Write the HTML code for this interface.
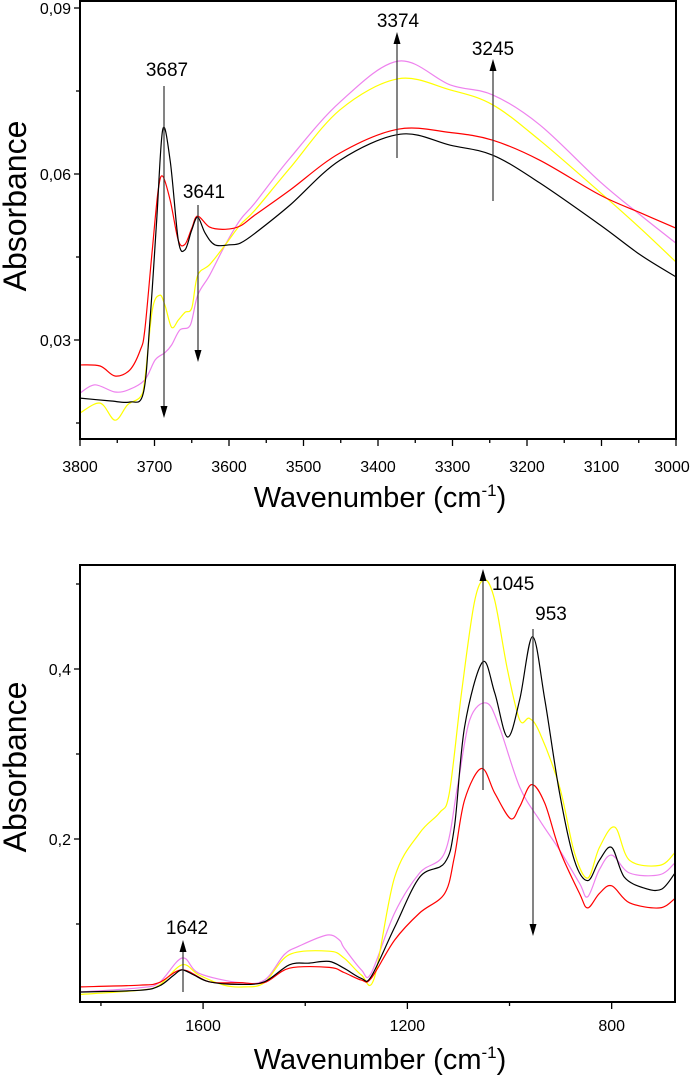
<!DOCTYPE html>
<html><head><meta charset="utf-8"><style>
html,body{margin:0;padding:0;background:#fff;}
svg{display:block;font-family:"Liberation Sans",Arial,sans-serif;}
</style></head><body>
<svg id="fig" width="694" height="1078" viewBox="0 0 694 1078" xmlns="http://www.w3.org/2000/svg"></svg>
<script>
// ---- Top chart data (OH region) ----
const topWn = {
 black:[3800,3760,3733,3715,3706,3697,3689,3679,3668,3659,3650,3642,3632,3619,3599,3585,3565,3518,3451,3370,3303,3246,3183,3102,3048,3000],
 red:[3800,3773,3753,3733,3719,3713,3703,3695,3689,3679,3668,3659,3650,3642,3626,3605,3585,3565,3518,3451,3373,3303,3246,3183,3102,3048,3000],
 yellow:[3800,3773,3753,3736,3719,3713,3703,3693,3686,3677,3668,3659,3650,3642,3626,3605,3585,3565,3518,3451,3373,3303,3246,3183,3102,3048,3000],
 violet:[3800,3780,3753,3733,3713,3699,3686,3677,3666,3652,3642,3626,3605,3585,3565,3518,3451,3373,3303,3246,3183,3102,3048,3000]
};
const topAbs = {
 black:[0.0195,0.019,0.0188,0.0204,0.0336,0.0517,0.068,0.0625,0.048,0.0463,0.0499,0.0522,0.0493,0.0472,0.0472,0.0475,0.0493,0.0544,0.0625,0.0672,0.0652,0.0634,0.0584,0.0508,0.0454,0.0414],
 red:[0.0255,0.0253,0.0235,0.0246,0.0282,0.0318,0.0463,0.0571,0.0596,0.0553,0.048,0.0473,0.0502,0.0524,0.0504,0.05,0.0506,0.0526,0.0571,0.0638,0.0681,0.0675,0.0661,0.0625,0.0562,0.053,0.0502],
 yellow:[0.0168,0.0186,0.0155,0.0183,0.0197,0.0228,0.0354,0.0381,0.0363,0.0323,0.0336,0.035,0.0358,0.0417,0.0436,0.0472,0.0508,0.0535,0.0611,0.0716,0.0772,0.0752,0.0725,0.0661,0.0567,0.0502,0.0441],
 violet:[0.0204,0.0219,0.0206,0.0211,0.0228,0.0264,0.0277,0.0291,0.0318,0.0327,0.0381,0.0417,0.0472,0.0517,0.0548,0.0629,0.073,0.0804,0.0761,0.0743,0.0689,0.0586,0.0526,0.0475]
};
const topXTicks = [3800,3700,3600,3500,3400,3300,3200,3100,3000];
const topYTicks = [0.03,0.06,0.09];
const topYTickLabels = ["0,03","0,06","0,09"];

// ---- Bottom chart data (fingerprint region) ----
const botWn = {
 black:[1843,1725,1686,1657,1641,1618,1588,1529,1480,1431,1392,1353,1324,1290,1271,1225,1176,1127,1108,1088,1053,1029,1004,980,955,931,902,873,847,824,800,775,735,702,676],
 red:[1843,1725,1686,1641,1588,1529,1480,1431,1353,1324,1290,1271,1225,1176,1127,1108,1088,1055,1029,998,980,957,931,902,863,847,824,800,765,706,676],
 yellow:[1843,1725,1686,1641,1608,1559,1520,1480,1431,1353,1324,1290,1265,1225,1176,1137,1118,1094,1069,1049,1029,1004,980,961,941,902,873,847,824,794,765,706,676],
 violet:[1843,1725,1686,1641,1608,1529,1480,1441,1412,1357,1333,1324,1290,1271,1225,1176,1127,1102,1078,1045,1020,980,941,902,863,847,824,800,765,706,676]
};
const botAbs = {
 black:[0.02,0.022,0.027,0.04,0.046,0.04,0.032,0.029,0.032,0.052,0.054,0.056,0.048,0.036,0.038,0.096,0.155,0.172,0.214,0.332,0.408,0.372,0.32,0.364,0.438,0.364,0.254,0.175,0.151,0.175,0.19,0.155,0.142,0.141,0.16],
 red:[0.026,0.028,0.031,0.046,0.032,0.031,0.031,0.048,0.049,0.043,0.034,0.036,0.081,0.113,0.136,0.179,0.246,0.283,0.254,0.224,0.238,0.264,0.242,0.187,0.136,0.119,0.136,0.145,0.125,0.119,0.13],
 yellow:[0.017,0.022,0.028,0.052,0.04,0.028,0.026,0.031,0.064,0.068,0.06,0.04,0.036,0.155,0.207,0.231,0.254,0.372,0.478,0.505,0.481,0.399,0.34,0.342,0.325,0.261,0.184,0.154,0.19,0.214,0.175,0.169,0.184],
 violet:[0.02,0.025,0.031,0.06,0.042,0.031,0.034,0.064,0.074,0.087,0.081,0.072,0.046,0.042,0.113,0.16,0.184,0.261,0.34,0.36,0.332,0.261,0.222,0.187,0.148,0.132,0.164,0.181,0.16,0.158,0.172]
};
const botXTicks = [1600,1200,800];
const botXMinor = [1800,1400,1000];
const botYTicks = [0.2,0.4];
const botYTickLabels = ["0,2","0,4"];
const botYMinor = [0.1,0.3,0.5];

const colors = {black:"#000000",red:"#ff0000",yellow:"#ffff00",violet:"#ee82ee"};
const order = ["violet","yellow","red","black"];
const NS = "http://www.w3.org/2000/svg";
const svg = document.getElementById('fig');
function mk(tag, attrs, parent, name){
  const e = document.createElementNS(NS, tag);
  for (const k in attrs) e.setAttribute(k, attrs[k]);
  
  
  (parent||svg).appendChild(e); return e;
}
function linAxis(d0,d1,r0,r1){ return v => r0 + (v-d0)/(d1-d0)*(r1-r0); }

const tx = linAxis(3800,3000,80,676);
const ty = linAxis(0.03,0.06,340,174);
const bx = linAxis(1841,676,80,675);
const by = linAxis(0.2,0.4,839,669);

function smoothPath(pts){
  let d = "M"+pts[0][0].toFixed(1)+","+pts[0][1].toFixed(1);
  for (let i=0;i<pts.length-1;i++){
    const p0=pts[i-1]||pts[i], p1=pts[i], p2=pts[i+1], p3=pts[i+2]||p2;
    const c1=[p1[0]+(p2[0]-p0[0])/6, p1[1]+(p2[1]-p0[1])/6];
    const c2=[p2[0]-(p3[0]-p1[0])/6, p2[1]-(p3[1]-p1[1])/6];
    d += " C"+c1[0].toFixed(1)+","+c1[1].toFixed(1)+" "+c2[0].toFixed(1)+","+c2[1].toFixed(1)+" "+p2[0].toFixed(1)+","+p2[1].toFixed(1);
  }
  return d;
}

function drawChart(g, wn, ab, xs, ys, clipId, box){
  const cp = mk('clipPath',{id:clipId},g,'plot-clip');
  mk('rect',{x:box[0],y:box[1],width:box[2]-box[0],height:box[3]-box[1]},cp,'clip-rect');
  order.forEach(k=>{
    const pts = wn[k].map((w,i)=>[xs(w), ys(ab[k][i])]);
    mk('path',{d:smoothPath(pts),fill:'none',stroke:colors[k],'stroke-width':1.2,'clip-path':'url(#'+clipId+')'},g,'series-'+k);
  });
  mk('rect',{x:box[0],y:box[1],width:box[2]-box[0],height:box[3]-box[1],fill:'none',stroke:'#000','stroke-width':2},g,'plot-frame');
}
function arrow(g,x,y1,y2,name){
  mk('line',{x1:x,y1:y1,x2:x,y2:y2+(y2<y1?8:-8),stroke:'#333','stroke-width':1.2},g,name+'-shaft');
  const s = y2<y1?1:-1;
  mk('polygon',{points:`${x-3.5},${y2+s*12} ${x+3.5},${y2+s*12} ${x},${y2}`,fill:'#000'},g,name+'-head');
}
function text(g,x,y,str,size,anchor,name,rot){
  const t = mk('text',{x:x,y:y,'font-size':size,'text-anchor':anchor||'middle',fill:'#000'},g,name);
  if(rot) t.setAttribute('transform',`rotate(-90 ${x} ${y})`);
  t.textContent = str; return t;
}
function xTitle(g,y){
  const t = mk('text',{x:380,y:y,'font-size':29,'text-anchor':'middle',fill:'#000'},g,'x-axis-title');
  t.appendChild(document.createTextNode('Wavenumber (cm'));
  const s = mk('tspan',{'font-size':17,dy:-11},t,'superscript');
  s.textContent='-1';
  const r = mk('tspan',{dy:11},t,'close-paren');
  r.textContent=')';
}

// ===== TOP =====
const gt = mk('g',{},svg,'top-chart');
drawChart(gt, topWn, topAbs, tx, ty, 'clipTop', [80,1,676,439]);
for (let w=3800; w>=3000; w-=50){
  const major = topXTicks.includes(w);
  mk('line',{x1:tx(w),x2:tx(w),y1:439,y2:major?446:443,stroke:'#000','stroke-width':1.3},gt,'x-tick');
}
topXTicks.forEach(w=>text(gt,tx(w)+(w===3000?-4:0),472,String(w),16,'middle','x-tick-label'));
[0.015,0.045,0.075].forEach(v=>mk('line',{x1:76,x2:80,y1:ty(v),y2:ty(v),stroke:'#000','stroke-width':1.3},gt,'y-minor-tick'));
topYTicks.forEach((v,i)=>{
  mk('line',{x1:74,x2:80,y1:ty(v),y2:ty(v),stroke:'#000','stroke-width':1.3},gt,'y-tick');
  text(gt,71,ty(v)+6,topYTickLabels[i],16,'end','y-tick-label');
});
text(gt,26,206,'Absorbance',32,'middle','y-axis-title',true);
xTitle(gt,507);
arrow(gt,164,86,418,'arrow-3687'); text(gt,167,76,'3687',19,'middle','label-3687');
arrow(gt,198,205,362,'arrow-3641'); text(gt,204,198,'3641',19,'middle','label-3641');
arrow(gt,397,158,32,'arrow-3374'); text(gt,398,27,'3374',19,'middle','label-3374');
arrow(gt,493,201,59,'arrow-3245'); text(gt,493,55,'3245',19,'middle','label-3245');

// ===== BOTTOM =====
const gb = mk('g',{},svg,'bottom-chart');
drawChart(gb, botWn, botAbs, bx, by, 'clipBot', [80,565,675,1002]);
botXMinor.forEach(w=>mk('line',{x1:bx(w),x2:bx(w),y1:1002,y2:1006,stroke:'#000','stroke-width':1.3},gb,'x-minor-tick'));
botXTicks.forEach(w=>{
  mk('line',{x1:bx(w),x2:bx(w),y1:1002,y2:1009,stroke:'#000','stroke-width':1.3},gb,'x-tick');
  text(gb,bx(w),1031,String(w),16,'middle','x-tick-label');
});
botYMinor.forEach(v=>mk('line',{x1:76,x2:80,y1:by(v),y2:by(v),stroke:'#000','stroke-width':1.3},gb,'y-minor-tick'));
botYTicks.forEach((v,i)=>{
  mk('line',{x1:74,x2:80,y1:by(v),y2:by(v),stroke:'#000','stroke-width':1.3},gb,'y-tick');
  text(gb,71,by(v)+6,botYTickLabels[i],16,'end','y-tick-label');
});
text(gb,26,767,'Absorbance',32,'middle','y-axis-title',true);
xTitle(gb,1069);
arrow(gb,183,992,940,'arrow-1642'); text(gb,187,934,'1642',19,'middle','label-1642');
arrow(gb,483,790,569,'arrow-1045'); text(gb,492,590,'1045',19,'start','label-1045');
arrow(gb,533,629,936,'arrow-953'); text(gb,551,620,'953',19,'middle','label-953');
</script>
</body></html>
